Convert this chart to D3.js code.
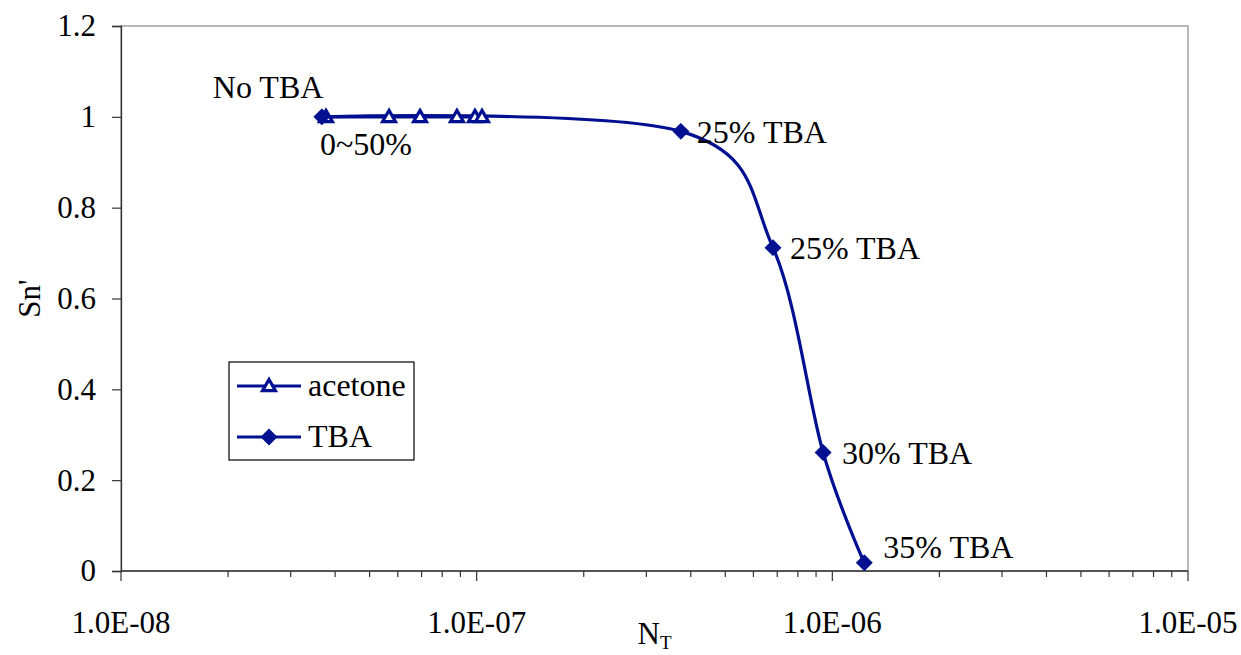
<!DOCTYPE html>
<html>
<head>
<meta charset="utf-8">
<script src="https://cdn.jsdelivr.net/npm/d3@7"></script>
<style>
  html, body { margin: 0; padding: 0; background: #fff; }
  svg { display: block; }
  svg text { font-family: "Times New Roman", "Liberation Serif", Tinos, "DejaVu Serif", serif; }
</style>
</head>
<body>
<svg id="chart" width="1241" height="655"></svg>
<script>
// Acetone series (open triangles)
const acetoneNT = [3.77e-8, 5.67e-8, 6.93e-8, 8.80e-8, 9.89e-8, 1.035e-7];
const acetoneSn = [1.0, 1.0, 1.0, 1.0, 1.0, 1.0];

// TBA series (filled diamonds)
const tbaNT = [3.67e-8, 3.75e-7, 6.81e-7, 9.42e-7, 1.23e-6];
const tbaSn = [1.0, 0.968, 0.712, 0.261, 0.018];
const tbaLabels = ["No TBA", "25% TBA", "25% TBA", "30% TBA", "35% TBA"];
const acetoneLabel = "0~50%";

const xTickLabels = ["1.0E-08", "1.0E-07", "1.0E-06", "1.0E-05"];
const xTickValues = [1e-8, 1e-7, 1e-6, 1e-5];
const yTickValues = [0, 0.2, 0.4, 0.6, 0.8, 1, 1.2];
const yTickLabels = ["0", "0.2", "0.4", "0.6", "0.8", "1", "1.2"];

const legendNames = ["acetone", "TBA"];

const FONT = "'Times New Roman', 'Liberation Serif', Tinos, 'DejaVu Serif', serif";
const svg = d3.select("#chart");
const plot = { left: 121, top: 26, right: 1188, bottom: 571 };
const navy = "#001090";

const x = d3.scaleLog().domain([1e-8, 1e-5]).range([plot.left, plot.right]);
const y = d3.scaleLinear().domain([0, 1.2]).range([plot.bottom, plot.top]);

// plot area frame
svg.append("rect")
  .attr("x", plot.left).attr("y", plot.top)
  .attr("width", plot.right - plot.left).attr("height", plot.bottom - plot.top)
  .attr("fill", "none").attr("stroke", "#8a8a8a").attr("stroke-width", 1.2);

// y axis
const yAxis = d3.axisLeft(y).tickValues(yTickValues).tickSize(9).tickPadding(16)
  .tickFormat((d, i) => yTickLabels[i]);
const gy = svg.append("g").attr("transform", `translate(${plot.left},0)`).call(yAxis)
  .attr("font-family", FONT);
gy.select(".domain").attr("stroke", "#333").attr("stroke-width", 1.3);
gy.selectAll(".tick line").attr("stroke", "#333").attr("stroke-width", 1.2);
gy.selectAll(".tick text").attr("font-size", 31).attr("fill", "#000")
  .attr("font-family", FONT);

// x axis: minor ticks for every 1..9 multiple, longer ticks at each decade
const minorTicks = x.ticks().filter(v => !xTickValues.some(m => Math.abs(v - m) / m < 1e-9));
const gx = svg.append("g").attr("transform", `translate(0,${plot.bottom})`);
gx.append("line").attr("x1", plot.left).attr("x2", plot.right)
  .attr("stroke", "#333").attr("stroke-width", 1.3);
gx.selectAll("line.minor").data(minorTicks).join("line").attr("class", "minor")
  .attr("x1", d => x(d)).attr("x2", d => x(d)).attr("y1", 0).attr("y2", 6)
  .attr("stroke", "#333").attr("stroke-width", 1.2);
gx.selectAll("line.major").data(xTickValues).join("line").attr("class", "major")
  .attr("x1", d => x(d)).attr("x2", d => x(d)).attr("y1", 0).attr("y2", 10)
  .attr("stroke", "#333").attr("stroke-width", 1.2);
gx.selectAll("text").data(xTickValues).join("text")
  .attr("x", d => x(d)).attr("y", 62).attr("text-anchor", "middle")
  .attr("font-family", FONT).attr("font-size", 31).attr("fill", "#000")
  .text((d, i) => xTickLabels[i]);

// axis titles
const xt = svg.append("text").attr("x", (plot.left + plot.right) / 2).attr("y", 644)
  .attr("text-anchor", "middle").attr("font-family", FONT).attr("font-size", 31).attr("fill", "#000");
xt.append("tspan").text("N");
xt.append("tspan").attr("font-size", 19).attr("dy", 5).text("T");

svg.append("text")
  .attr("transform", `translate(40,${(plot.top + plot.bottom) / 2}) rotate(-90)`)
  .attr("text-anchor", "middle").attr("font-family", FONT).attr("font-size", 31).attr("fill", "#000")
  .text("Sn'");

// series
const acetone = acetoneNT.map((v, i) => ({ nt: v, sn: acetoneSn[i] }));
const tba = tbaNT.map((v, i) => ({ nt: v, sn: tbaSn[i], label: tbaLabels[i] }));

const line = d3.line().x(d => x(d.nt)).y(d => y(d.sn)).curve(d3.curveCardinal.tension(0));

svg.append("path").datum(acetone).attr("d", line)
  .attr("fill", "none").attr("stroke", navy).attr("stroke-width", 3.2);
svg.append("path").datum(tba).attr("d", line)
  .attr("fill", "none").attr("stroke", navy).attr("stroke-width", 3.2);

const tri = d3.symbol().type(d3.symbolTriangle).size(72);
svg.selectAll("path.tri").data(acetone).join("path").attr("class", "tri")
  .attr("d", tri)
  .attr("transform", d => `translate(${x(d.nt)},${y(d.sn) + 1})`)
  .attr("fill", "#fff").attr("stroke", navy).attr("stroke-width", 3.2);

const diamond = d3.symbol().type(d3.symbolSquare).size(120);
svg.selectAll("path.dia").data(tba).join("path").attr("class", "dia")
  .attr("d", diamond)
  .attr("transform", d => `translate(${x(d.nt)},${y(d.sn)}) rotate(45)`)
  .attr("fill", navy).attr("stroke", navy).attr("stroke-width", 1);

// point annotations
const labelOffsets = [[-109, -19], [16, 12], [17, 11], [19, 12], [19, -5]];
svg.selectAll("text.ann").data(tba).join("text").attr("class", "ann")
  .attr("x", (d, i) => x(d.nt) + labelOffsets[i][0])
  .attr("y", (d, i) => y(d.sn) + labelOffsets[i][1])
  .attr("font-family", FONT).attr("font-size", 32).attr("fill", "#000")
  .text(d => d.label);
svg.append("text")
  .attr("x", x(acetone[0].nt) - 6).attr("y", y(acetone[0].sn) + 38)
  .attr("font-family", FONT).attr("font-size", 32).attr("fill", "#000")
  .text(acetoneLabel);

// legend
const lg = svg.append("g").attr("transform", "translate(229,362)");
lg.append("rect").attr("x", 0).attr("y", 0).attr("width", 185).attr("height", 98)
  .attr("fill", "#fff").attr("stroke", "#000").attr("stroke-width", 1.2);
legendNames.forEach((name, i) => {
  const cy = 24 + i * 51;
  lg.append("line").attr("x1", 8).attr("x2", 72).attr("y1", cy).attr("y2", cy)
    .attr("stroke", navy).attr("stroke-width", 3.2);
  if (i === 0) {
    lg.append("path").attr("d", tri).attr("transform", `translate(40,${cy + 1})`)
      .attr("fill", "#fff").attr("stroke", navy).attr("stroke-width", 3.2);
  } else {
    lg.append("path").attr("d", diamond).attr("transform", `translate(40,${cy}) rotate(45)`)
      .attr("fill", navy).attr("stroke", navy).attr("stroke-width", 1);
  }
  lg.append("text").attr("x", 79).attr("y", cy + 10)
    .attr("font-family", FONT).attr("font-size", 32)
    .attr("fill", "#000").text(name);
});
</script>
</body>
</html>
